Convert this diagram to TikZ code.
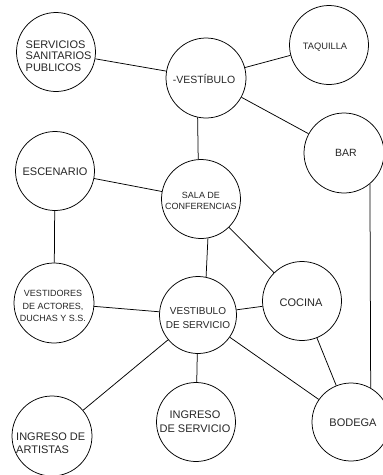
\documentclass[tikz,border=0pt]{standalone}
\usepackage{fontspec}
\setmainfont{Liberation Sans}
\begin{document}
\begin{tikzpicture}[x=1pt,y=-1pt,
  room/.style={circle,draw,line width=0.75pt,inner sep=0pt,minimum size=#1},
  room/.default=79pt,
  lbl/.style={inner sep=0pt,align=center,text=black!85},
  link/.style={line width=0.75pt}]
\useasboundingbox (0,0) rectangle (383,475);
\clip (0,0) rectangle (383,475);
\fill[white] (0,0) rectangle (383,475);
% circles
\node[room] (serv) at (56,52) {};
\node[room=80pt] (vest) at (206,78) {};
\node[room] (taq) at (329,45) {};
\node[room=80pt] (bar) at (344,153) {};
\node[room] (esc) at (55,171) {};
\node[room] (sala) at (201,199) {};
\node[room=80pt] (vestid) at (54,303) {};
\node[room=77pt] (vserv) at (198,315) {};
\node[room] (coc) at (302,301) {};
\node[room] (ings) at (196,422) {};
\node[room=80pt] (inga) at (52,436) {};
\node[room=78pt] (bod) at (351,422) {};
% labels
\node[lbl,align=left,anchor=west,font=\fontsize{11}{11.7}\selectfont] (tserv) at (25.5,56) {SERVICIOS\\SANITARIOS\\PUBLICOS};
\node[lbl,font=\fontsize{10.5}{12}\selectfont] (tvest) at (204,79) {-VESTÍBULO};
\node[lbl,font=\fontsize{9.3}{11}\selectfont] (ttaq) at (325,47) {TAQUILLA};
\node[lbl,font=\fontsize{10.5}{12}\selectfont] (tbar) at (346,153) {BAR};
\node[lbl,font=\fontsize{11}{12}\selectfont] (tesc) at (55,172) {ESCENARIO};
\node[lbl,font=\fontsize{9}{11}\selectfont] (tsala) at (201,201) {SALA DE\\CONFERENCIAS};
\node[lbl,font=\fontsize{9}{12.5}\selectfont] (tvestid) at (53,306) {VESTIDORES\\DE ACTORES,\\DUCHAS Y S.S.};
\node[lbl,font=\fontsize{10}{14}\selectfont] (tvserv) at (198,318) {VESTIBULO\\DE SERVICIO};
\node[lbl,font=\fontsize{11}{12}\selectfont] (tcoc) at (301,303) {COCINA};
\node[lbl,font=\fontsize{11}{14}\selectfont] (tings) at (195,422) {INGRESO\\DE SERVICIO};
\node[lbl,align=left,anchor=west,font=\fontsize{11}{12.8}\selectfont] (tinga) at (16,443) {INGRESO DE\\ARTISTAS};
\node[lbl,font=\fontsize{11}{12}\selectfont] (tbod) at (353,423) {BODEGA};
% connectors
\draw[link] (serv) -- (vest);
\draw[link] (vest) -- (taq);
\draw[link] (vest) -- (bar);
\draw[link] (vest.-102) -- (sala.94);
\draw[link] (esc) -- (sala);
\draw[link] (esc) -- (vestid);
\draw[link] (sala.-80) -- (vserv.78);
\draw[link] (sala) -- (coc);
\draw[link] (vestid) -- (vserv);
\draw[link] (vserv) -- (coc);
\draw[link] (vserv) -- (inga);
\draw[link] (vserv) -- (ings);
\draw[link] (vserv) -- (bod);
\draw[link] (coc) -- (bod);
\draw[link] (bar.-50) -- (bod.60);
\end{tikzpicture}
\end{document}
